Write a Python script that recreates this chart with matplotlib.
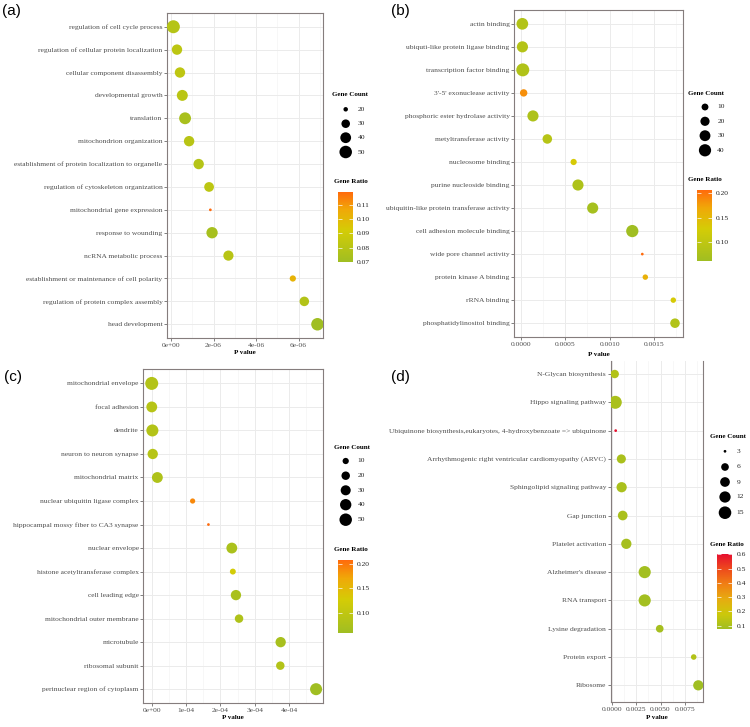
import numpy as np
import matplotlib
matplotlib.use("Agg")
import matplotlib.pyplot as plt
from matplotlib.colors import LinearSegmentedColormap, Normalize
import matplotlib.cm as cm

plt.rcParams['font.family'] = ['Liberation Serif', 'DejaVu Serif']

# ---------------- data ----------------
a_terms = ["regulation of cell cycle process", "regulation of cellular protein localization",
           "cellular component disassembly", "developmental growth", "translation",
           "mitochondrion organization", "establishment of protein localization to organelle",
           "regulation of cytoskeleton organization", "mitochondrial gene expression",
           "response to wounding", "ncRNA metabolic process",
           "establishment or maintenance of cell polarity",
           "regulation of protein complex assembly", "head development"]
a_pvalue = [0.11e-6, 0.28e-6, 0.42e-6, 0.53e-6, 0.66e-6, 0.85e-6, 1.30e-6, 1.79e-6,
            1.85e-6, 1.93e-6, 2.70e-6, 5.73e-6, 6.27e-6, 6.89e-6]
a_count = [53, 38, 38, 41, 46, 38, 38, 35, 19, 43, 37, 23, 34, 50]
a_ratio = [0.079, 0.082, 0.083, 0.081, 0.074, 0.080, 0.079, 0.082, 0.119, 0.073,
           0.080, 0.102, 0.078, 0.070]
a_size_breaks = [20, 30, 40, 50]
a_ratio_breaks = [0.07, 0.08, 0.09, 0.10, 0.11]
a_xticks = [0, 2e-6, 4e-6, 6e-6]
a_xticklabels = ["0e+00", "2e-06", "4e-06", "6e-06"]

b_terms = ["actin binding", "ubiquti-like protein ligase binding", "transcription factor binding",
           "3'-5' exonuclease activity", "phosphoric ester hydrolase activity",
           "metyltransferase activity", "nucleosome binding", "purine nucleoside binding",
           "ubiquitin-like protein transferase activity", "cell adhesion molecule binding",
           "wide pore channel activity", "protein kinase A binding", "rRNA binding",
           "phosphatidylinositol binding"]
b_pvalue = [0.000015, 0.000016, 0.000020, 0.000030, 0.000135, 0.000297, 0.000594, 0.000643,
            0.000809, 0.001256, 0.001369, 0.001403, 0.001719, 0.001738]
b_count = [36, 32, 46, 12, 32, 22, 8, 32, 32, 40, 3, 6, 6, 22]
b_ratio = [0.085, 0.088, 0.082, 0.185, 0.080, 0.090, 0.130, 0.080, 0.070, 0.062,
           0.207, 0.160, 0.130, 0.085]
b_size_breaks = [10, 20, 30, 40]
b_ratio_breaks = [0.10, 0.15, 0.20]
b_xticks = [0, 0.0005, 0.0010, 0.0015]
b_xticklabels = ["0.0000", "0.0005", "0.0010", "0.0015"]

c_terms = ["mitochondrial envelope", "focal adhesion", "dendrite", "neuron to neuron synapse",
           "mitochondrial matrix", "nuclear ubiquitin ligase complex",
           "hippocampal mossy fiber to CA3 synapse", "nuclear envelope",
           "histone acetyltransferase complex", "cell leading edge",
           "mitochondrial outer membrane", "microtubule", "ribosomal subunit",
           "perinuclear region of cytoplasm"]
c_pvalue = [0.001e-4, 0.002e-4, 0.02e-4, 0.03e-4, 0.165e-4, 1.19e-4, 1.65e-4, 2.33e-4,
            2.36e-4, 2.45e-4, 2.54e-4, 3.75e-4, 3.74e-4, 4.78e-4]
c_count = [55, 36, 46, 32, 36, 7, 4, 36, 9, 32, 20, 32, 20, 46]
c_ratio = [0.085, 0.090, 0.085, 0.088, 0.080, 0.190, 0.208, 0.075, 0.125, 0.072,
           0.080, 0.070, 0.085, 0.060]
c_size_breaks = [10, 20, 30, 40, 50]
c_ratio_breaks = [0.10, 0.15, 0.20]
c_xticks = [0, 1e-4, 2e-4, 3e-4, 4e-4]
c_xticklabels = ["0e+00", "1e-04", "2e-04", "3e-04", "4e-04"]

d_terms = ["N-Glycan biosynthesis", "Hippo signaling pathway",
           "Ubiquinone biosynthesis,eukaryotes, 4-hydroxybenzoate => ubiquinone",
           "Arrhythmogenic right ventricular cardiomyopathy (ARVC)",
           "Sphingolipid signaling pathway", "Gap junction", "Platelet activation",
           "Alzheimer's disease", "RNA transport", "Lysine degradation",
           "Protein export", "Ribosome"]
d_pvalue = [0.00031, 0.00037, 0.00041, 0.00099, 0.00102, 0.00113, 0.00150, 0.00338,
            0.00338, 0.00492, 0.00840, 0.00887]
d_count = [7, 16, 3, 8, 10, 9, 10, 14, 14, 6, 4, 10]
d_ratio = [0.12, 0.10, 0.60, 0.10, 0.10, 0.10, 0.09, 0.085, 0.085, 0.09, 0.12, 0.075]
d_size_breaks = [3, 6, 9, 12, 15]
d_ratio_breaks = [0.1, 0.2, 0.3, 0.4, 0.5, 0.6]
d_xticks = [0, 0.0025, 0.0050, 0.0075]
d_xticklabels = ["0.0000", "0.0025", "0.0050", "0.0075"]

# ---------------- helpers ----------------
W, H = 750, 727
fig = plt.figure(figsize=(W / 100, H / 100), dpi=100)

cmap_abc = LinearSegmentedColormap.from_list(
    'abc', [(0, '#A0BE22'), (0.45, '#D4CC06'), (0.75, '#F0A808'), (1, '#FF6A0C')])
cmap_d = LinearSegmentedColormap.from_list(
    'd', [(0, '#A0BE22'), (0.2, '#CCC80A'), (0.4, '#E6AC10'), (0.6, '#F08014'),
          (0.8, '#EE4C1C'), (1, '#E6102E')])

TICK_FS = 5.4
GRAY = '#4d4d4d'
BORDER = '#857d7d'


def ax_px(x0, y0, x1, y1):
    return fig.add_axes([x0 / W, 1 - y1 / H, (x1 - x0) / W, (y1 - y0) / H])


def size_pt2(count, lo, hi, k=2.05):
    t = np.clip((np.asarray(count, float) - lo) / (hi - lo), 0, 1)
    size = 1 + 5 * np.sqrt(t)
    d_px = k * (size + 0.33)
    return (d_px * 0.72) ** 2


def draw_panel(rect, terms, pvals, counts, ratios, cmap, xlim, xticks, xticklabels,
               minor, top=-0.6, top_spine=True, labelpad=1.6):
    ax = ax_px(*rect)
    n = len(terms)
    y = np.arange(n)
    norm = Normalize(min(ratios), max(ratios))
    ax.scatter(pvals, y, s=size_pt2(counts, min(counts), max(counts)), c=ratios,
               cmap=cmap, norm=norm, linewidths=0, zorder=3)
    ax.set_ylim(n - 1 + 0.6, top)
    ax.set_yticks(y)
    ax.set_yticklabels(terms)
    ax.set_xlim(xlim)
    ax.set_xticks(xticks)
    ax.set_xticklabels(xticklabels)
    ax.set_xticks(minor, minor=True)
    ax.grid(True, which='major', color='#ebebeb', lw=0.7)
    ax.grid(True, which='minor', axis='x', color='#f3f3f3', lw=0.45)
    ax.set_axisbelow(True)
    ax.tick_params(which='minor', length=0)
    ax.tick_params(which='major', length=2.0, width=0.5, color=GRAY, pad=1.3,
                   labelsize=TICK_FS, labelcolor=GRAY)
    ax.set_xlabel('P value', fontweight='bold', fontsize=5.0, labelpad=labelpad)
    for s in ax.spines.values():
        s.set_color(BORDER)
        s.set_linewidth(0.8)
    if not top_spine:
        ax.spines['top'].set_visible(False)
    return ax, norm


def colorbar(rect, cmap, norm, ticks, fmt):
    cax = ax_px(*rect)
    cb = fig.colorbar(cm.ScalarMappable(norm=norm, cmap=cmap), cax=cax)
    cb.outline.set_visible(False)
    cb.set_ticks(ticks)
    cb.set_ticklabels([fmt % t for t in ticks])
    cb.minorticks_off()
    cax.tick_params(which='both', direction='in', length=2.8, width=0.5, color='white',
                    left=True, right=True, labelleft=False, labelright=True,
                    labelsize=TICK_FS, labelcolor='#222222', pad=3.2)
    return cb


ov = fig.add_axes([0, 0, 1, 1])
ov.set_xlim(0, W)
ov.set_ylim(H, 0)
ov.axis('off')


def size_legend(breaks, counts, x_dot, ys, x_lab, title_xy):
    lo, hi = min(counts), max(counts)
    ov.scatter([x_dot] * len(breaks), ys, s=size_pt2(breaks, lo, hi), c='black',
               linewidths=0)
    for b, yy in zip(breaks, ys):
        ov.text(x_lab, yy, str(b), fontsize=TICK_FS, color='#222222', va='center', ha='left')
    ov.text(title_xy[0], title_xy[1], 'Gene Count', fontsize=5.0, fontweight='bold',
            ha='center', va='center')


# ---------------- panel a ----------------
ax_a, norm_a = draw_panel((167, 13, 323, 338), a_terms, a_pvalue, a_count, a_ratio, cmap_abc,
                          (-0.19e-6, 7.15e-6), a_xticks, a_xticklabels,
                          [1e-6, 3e-6, 5e-6, 7e-6])
colorbar((338.3, 192, 352.7, 262), cmap_abc, norm_a, a_ratio_breaks, "%.2f")
size_legend(a_size_breaks, a_count, 345.7, [109.3, 123.7, 137.7, 152], 357.7, (350, 95))
ov.text(350.7, 181.7, 'Gene Ratio', fontsize=5.0, fontweight='bold', ha='center', va='center')

# ---------------- panel b ----------------
ax_b, norm_b = draw_panel((514.3, 10, 682.7, 337), b_terms, b_pvalue, b_count, b_ratio, cmap_abc,
                          (-0.0000756, 0.001825), b_xticks, b_xticklabels,
                          [0.00025, 0.00075, 0.00125, 0.00175], labelpad=4.0)
colorbar((696.7, 190, 711.7, 261), cmap_abc, norm_b, b_ratio_breaks, "%.2f")
size_legend(b_size_breaks, b_count, 705, [107, 121.3, 135.7, 150.3], 717.3, (706, 93.3))
ov.text(705, 179.3, 'Gene Ratio', fontsize=5.0, fontweight='bold', ha='center', va='center')

# ---------------- panel c ----------------
ax_c, norm_c = draw_panel((143.3, 369.3, 323.3, 703.3), c_terms, c_pvalue, c_count, c_ratio,
                          cmap_abc, (-0.244e-4, 4.99e-4), c_xticks, c_xticklabels,
                          [0.5e-4, 1.5e-4, 2.5e-4, 3.5e-4, 4.5e-4])
colorbar((338.3, 560, 352.7, 632.7), cmap_abc, norm_c, c_ratio_breaks, "%.2f")
size_legend(c_size_breaks, c_count, 345.7, [461, 475.7, 490.3, 504.7, 519.7], 357.7, (352, 447.3))
ov.text(350.5, 549.3, 'Gene Ratio', fontsize=5.0, fontweight='bold', ha='center', va='center')

# ---------------- panel d ----------------
ax_d, norm_d = draw_panel((610.7, 361, 702.7, 702.3), d_terms, d_pvalue, d_count, d_ratio,
                          cmap_d, (-0.0001, 0.00932), d_xticks, d_xticklabels,
                          [0.00125, 0.00375, 0.00625, 0.00875], top=-0.46, top_spine=False,
                          labelpad=2.5)
colorbar((717.3, 554.3, 732.3, 629.3), cmap_d, norm_d, d_ratio_breaks, "%.1f")
size_legend(d_size_breaks, d_count, 725, [451.3, 467, 482, 497, 512.7], 736.7, (727.8, 437))
ov.text(726.7, 544, 'Gene Ratio', fontsize=5.0, fontweight='bold', ha='center', va='center')

# ---------------- panel labels ----------------
for lab, (x, y) in zip(["(a)", "(b)", "(c)", "(d)"],
                       [(2, 10.5), (391, 10.5), (4, 377.5), (391, 377.5)]):
    ov.text(x, y, lab, fontsize=11, family=['Liberation Sans', 'DejaVu Sans'],
            ha='left', va='center')

fig.savefig("out.png", dpi=100)
